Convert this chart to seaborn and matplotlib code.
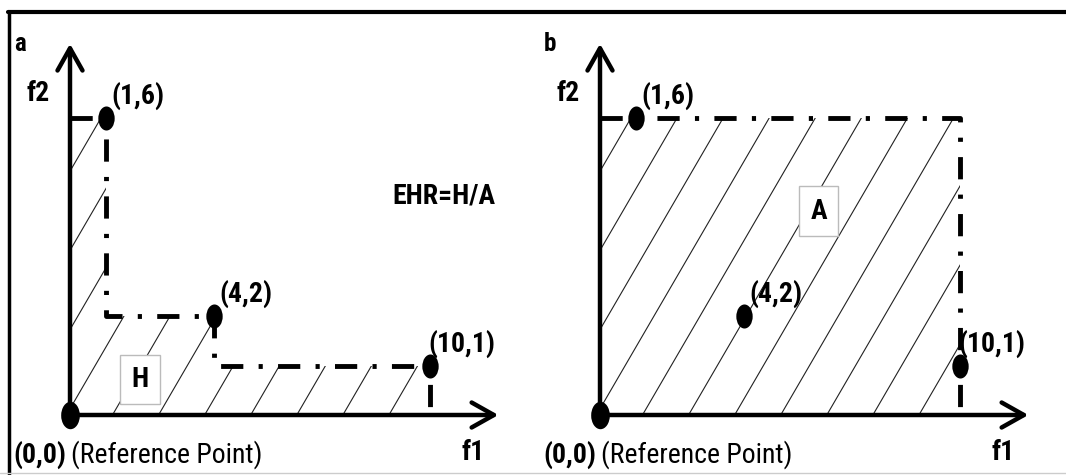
import numpy as np
import matplotlib
matplotlib.use("Agg")
import matplotlib.pyplot as plt
import seaborn as sns
from matplotlib import font_manager
from matplotlib.path import Path
from matplotlib.transforms import Affine2D
from matplotlib.patches import Polygon
from matplotlib.lines import Line2D

# Pareto front (f1, f2) and the reference point
f1 = [1, 4, 10]
f2 = [6, 2, 1]
ref_f1, ref_f2 = 0, 0
point_labels = ["(1,6)", "(4,2)", "(10,1)"]
panel_letters = ["a", "b"]
area_labels = ["H", "A"]
ratio_text = "EHR=H/A"

sns.set_theme(style="white")

# a narrow face is closest to the picture; take what is installed
have = {f.name for f in font_manager.fontManager.ttflist}
FONT, FS = "Roboto", 17.5
for cand in ["Liberation Sans Narrow", "Roboto Condensed", "DejaVu Sans Condensed"]:
    if cand in have:
        FONT, FS = cand, 20
        break
plt.rcParams["font.family"] = [FONT, "DejaVu Sans"]
plt.rcParams["text.color"] = "black"
plt.rcParams["lines.scale_dashes"] = False

W, H = 1066, 475
fig = plt.figure(figsize=(W / 100, H / 100), dpi=100)

# schematic scale: pixels per unit, origin row in pixels
sx, sy = 36.0, 49.5
oy = 415
DASHDOT = (0, (16, 11, 3, 11))

# slightly tall dot marker like in the picture
dot = Path.unit_circle().transformed(Affine2D().scale(0.68, 1.0))


def make_ax(left_px, width_px, origin_px):
    ax = fig.add_axes([left_px / W, 0, width_px / W, 1])
    ax.set_xlim((left_px - origin_px) / sx, (left_px + width_px - origin_px) / sx)
    ax.set_ylim((oy - H) / sy, oy / sy)
    ax.axis("off")
    return ax


def hatch(ax, verts, slope=1.25, gap=1.28, offset=-0.1):
    poly = Polygon(verts, closed=True, fill=False, edgecolor="none")
    ax.add_patch(poly)
    top = max(v[1] for v in verts)
    right = max(v[0] for v in verts)
    start = offset - np.ceil(top / slope / gap) * gap
    for x0 in np.arange(start, right + gap, gap):
        ln, = ax.plot([x0, x0 + top / slope], [0, top], color="#222222", lw=0.8, zorder=1)
        ln.set_clip_path(poly)


def axes_arrows(ax, letter):
    akw = dict(arrowstyle="->,head_length=0.8,head_width=0.45", lw=3.2,
               color="black", shrinkA=0, shrinkB=0, mutation_scale=20)
    ax.annotate("", xy=(11.9, 0), xytext=(-0.05, 0), arrowprops=akw, zorder=4)
    ax.annotate("", xy=(0, 7.5), xytext=(0, -0.05), arrowprops=akw, zorder=4)
    ax.text(-1.4, 7.5, letter, fontsize=FS - 2, fontweight="bold", ha="center", va="center")
    ax.text(-0.88, 6.5, "f2", fontsize=FS, fontweight="bold", ha="center", va="center")
    ax.text(11.2, -0.75, "f1", fontsize=FS, fontweight="bold", ha="center", va="center")
    ax.text(-1.57, -0.8, "(0,0)", fontsize=FS, fontweight="bold", ha="left", va="center")
    ax.text(0.02, -0.8, "(Reference Point)", fontsize=FS, ha="left", va="center")


def draw_points(ax):
    sns.scatterplot(x=f1, y=f2, marker=dot, s=300, color="black",
                    edgecolor="black", linewidth=0, ax=ax, zorder=6)
    sns.scatterplot(x=[ref_f1], y=[ref_f2], marker=dot, s=390, color="black",
                    edgecolor="black", linewidth=0, ax=ax, zorder=6)
    for x, y, lab in zip(f1, f2, point_labels):
        ax.annotate(lab, (x, y), xytext=(32, 22), textcoords="offset pixels",
                    fontsize=FS, fontweight="bold", ha="center", va="center")


box = dict(boxstyle="square,pad=0.4", fc="white", ec="#bbbbbb", lw=1)

# ---------- panel a: hypervolume H under the staircase ----------
ax_a = make_ax(0, 533, 70)
stair = [(ref_f1, ref_f2), (ref_f1, f2[0])]
for i in range(len(f1)):
    stair.append((f1[i], f2[i]))
    stair.append((f1[i], f2[i + 1] if i + 1 < len(f1) else ref_f2))
hatch(ax_a, stair)
sns.lineplot(x=[p[0] for p in stair[1:]], y=[p[1] for p in stair[1:]], sort=False,
             estimator=None, color="black", lw=3.5, linestyle=DASHDOT, ax=ax_a, zorder=3)
axes_arrows(ax_a, panel_letters[0])
draw_points(ax_a)
ax_a.text(1.94, 0.71, area_labels[0], fontsize=FS, fontweight="bold",
          ha="center", va="center", bbox=box, zorder=5)
ax_a.text(10.4, 4.42, ratio_text, fontsize=FS, fontweight="bold", ha="center", va="center")

# ---------- panel b: bounding area A ----------
ax_b = make_ax(533, 533, 600)
rect = [(ref_f1, ref_f2), (ref_f1, max(f2)), (max(f1), max(f2)), (max(f1), ref_f2)]
hatch(ax_b, rect)
sns.lineplot(x=[p[0] for p in rect[1:]], y=[p[1] for p in rect[1:]], sort=False,
             estimator=None, color="black", lw=3.5, linestyle=DASHDOT, ax=ax_b, zorder=3)
axes_arrows(ax_b, panel_letters[1])
draw_points(ax_b)
ax_b.text(6.08, 4.12, area_labels[1], fontsize=FS, fontweight="bold",
          ha="center", va="center", bbox=box, zorder=5)

# outer frame of the figure
fig.add_artist(Line2D([8 / W, 1], [1 - 11.5 / H] * 2, color="black", lw=3))
fig.add_artist(Line2D([9 / W] * 2, [0, 1 - 11.5 / H], color="black", lw=2.5))
fig.add_artist(Line2D([0, 1], [2.5 / H] * 2, color="#cccccc", lw=1))

fig.savefig("out.png", dpi=100, facecolor="white")
